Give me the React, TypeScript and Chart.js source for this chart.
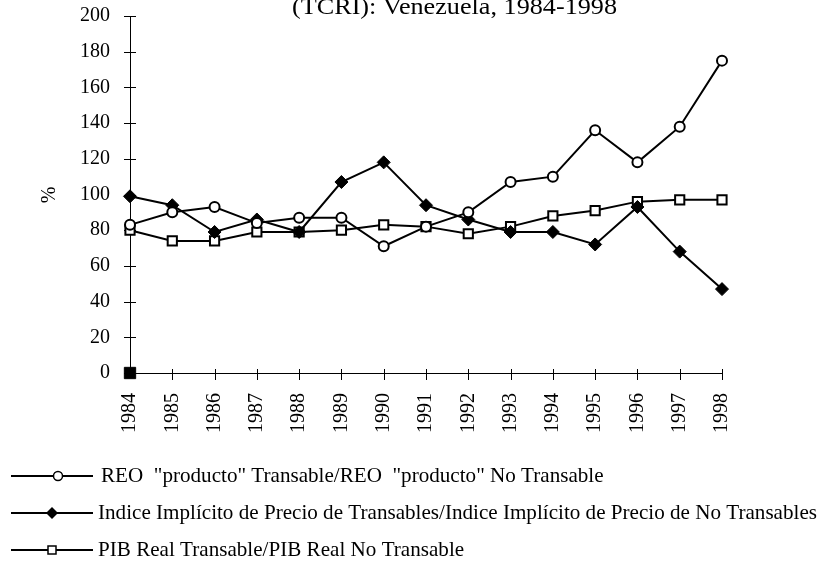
import { useEffect, useRef } from "react";
import { Chart, registerables } from "chart.js";

Chart.register(...registerables);

const years = ["1984", "1985", "1986", "1987", "1988", "1989", "1990", "1991", "1992", "1993", "1994", "1995", "1996", "1997", "1998"];
const reo = [83, 90, 93, 84, 87, 87, 71, 82, 90, 107, 110, 136, 118, 138, 175];
const indice = [99, 94, 79, 86, 79, 107, 118, 94, 86, 79, 79, 72, 93, 68, 47];
const pib = [80, 74, 74, 79, 79, 80, 83, 82, 78, 82, 88, 91, 96, 97, 97];
const strayMark = [0, null, null, null, null, null, null, null, null, null, null, null, null, null, null];

const titleText = "(TCRI): Venezuela, 1984-1998";
const yAxisTitle = "%";
const legendLabels = [
  "REO  \"producto\" Transable/REO  \"producto\" No Transable",
  "Indice Implícito de Precio de Transables/Indice Implícito de Precio de No Transables",
  "PIB Real Transable/PIB Real No Transable",
];
const legendMarkers = ["circle", "diamond", "square"];

const SERIF = "'Liberation Serif', 'DejaVu Serif', serif";

const decorPlugin = {
  id: "decor",
  beforeDatasetsDraw(chart: any) {
    const ctx = chart.ctx;
    const x = chart.scales.x;
    const y = chart.scales.y;
    const area = chart.chartArea;
    ctx.save();
    ctx.strokeStyle = "#000";
    ctx.lineWidth = 1;
    ctx.beginPath();
    ctx.moveTo(area.left + 0.5, area.top);
    ctx.lineTo(area.left + 0.5, area.bottom + 0.5);
    ctx.lineTo(area.right, area.bottom + 0.5);
    ctx.stroke();
    y.ticks.forEach((_t: any, i: number) => {
      const py = Math.round(y.getPixelForTick(i)) + 0.5;
      ctx.beginPath();
      ctx.moveTo(area.left - 6, py);
      ctx.lineTo(area.left + 6, py);
      ctx.stroke();
    });
    x.ticks.forEach((_t: any, i: number) => {
      if (i === 0) return;
      const px = Math.round(x.getPixelForTick(i)) + 0.5;
      ctx.beginPath();
      ctx.moveTo(px, area.bottom - 4);
      ctx.lineTo(px, area.bottom + 7);
      ctx.stroke();
    });
    ctx.restore();
  },
  afterDraw(chart: any) {
    const ctx = chart.ctx;
    ctx.save();
    ctx.fillStyle = "#000";
    // title (partially cut at top)
    ctx.font = `24px ${SERIF}`;
    ctx.textBaseline = "alphabetic";
    ctx.textAlign = "left";
    const tw = ctx.measureText(titleText).width;
    ctx.save();
    ctx.translate(292, 14);
    ctx.scale(325 / tw, 1);
    ctx.fillText(titleText, 0, 0);
    ctx.restore();

    // y axis title
    ctx.save();
    ctx.font = `20px ${SERIF}`;
    ctx.translate(50, 195);
    ctx.rotate(-Math.PI / 2);
    ctx.textAlign = "center";
    ctx.textBaseline = "middle";
    ctx.fillText(yAxisTitle, 0, 0);
    ctx.restore();

    // legend
    ctx.font = `21px ${SERIF}`;
    const refW = ctx.measureText(legendLabels[1]).width;
    const sx = 719 / refW;
    const rowsY = [476, 513, 550];
    const markX = [58, 52, 52];
    const textX = [101, 98, 98];
    legendLabels.forEach((label, i) => {
      const ly = rowsY[i];
      ctx.strokeStyle = "#000";
      ctx.lineWidth = 2;
      ctx.beginPath();
      ctx.moveTo(11, ly);
      ctx.lineTo(93, ly);
      ctx.stroke();
      const m = legendMarkers[i];
      const mx = markX[i];
      ctx.lineWidth = 1.5;
      if (m === "circle") {
        ctx.fillStyle = "#fff";
        ctx.beginPath();
        ctx.arc(mx, ly, 4.5, 0, Math.PI * 2);
        ctx.fill();
        ctx.stroke();
      } else if (m === "diamond") {
        ctx.fillStyle = "#000";
        ctx.beginPath();
        ctx.moveTo(mx, ly - 6);
        ctx.lineTo(mx + 6, ly);
        ctx.lineTo(mx, ly + 6);
        ctx.lineTo(mx - 6, ly);
        ctx.closePath();
        ctx.fill();
      } else {
        ctx.fillStyle = "#fff";
        ctx.fillRect(mx - 4, ly - 4, 8, 8);
        ctx.strokeRect(mx - 4, ly - 4, 8, 8);
      }
      ctx.fillStyle = "#000";
      ctx.textBaseline = "middle";
      ctx.save();
      ctx.translate(textX[i], ly);
      ctx.scale(sx, 1);
      ctx.fillText(label, 0, 0);
      ctx.restore();
    });
    ctx.restore();
  },
};

export default function App() {
  const ref = useRef<HTMLCanvasElement | null>(null);
  useEffect(() => {
    document.body.style.margin = "0";
    const canvas = ref.current!;
    const chart = new Chart(canvas, {
      type: "line",
      data: {
        labels: years,
        datasets: [
          {
            label: legendLabels[0],
            data: reo,
            borderColor: "#000",
            borderWidth: 2,
            pointStyle: "circle",
            pointRadius: 5,
            pointBorderWidth: 2,
            pointBackgroundColor: "#fff",
            pointBorderColor: "#000",
            tension: 0,
            clip: false,
          },
          {
            label: legendLabels[1],
            data: indice,
            borderColor: "#000",
            borderWidth: 2,
            pointStyle: "rectRot",
            pointRadius: 6.5,
            pointBorderWidth: 1,
            pointBackgroundColor: "#000",
            pointBorderColor: "#000",
            tension: 0,
            clip: false,
          },
          {
            label: legendLabels[2],
            data: pib,
            borderColor: "#000",
            borderWidth: 2,
            pointStyle: "rect",
            pointRadius: 6.5,
            pointBorderWidth: 2,
            pointBackgroundColor: "#fff",
            pointBorderColor: "#000",
            tension: 0,
            clip: false,
          },
          {
            label: "",
            data: strayMark,
            showLine: false,
            pointStyle: "rect",
            pointRadius: 8,
            pointBorderWidth: 1,
            pointBackgroundColor: "#000",
            pointBorderColor: "#000",
            clip: false,
          },
        ],
      },
      options: {
        responsive: false,
        animation: false,
        devicePixelRatio: 1,
        layout: { padding: { left: 0, right: 105, top: 16, bottom: 0 } },
        plugins: {
          legend: { display: false },
          title: { display: false },
          tooltip: { enabled: false },
        },
        scales: {
          x: {
            type: "category",
            offset: false,
            grid: { display: false, drawTicks: false },
            border: { display: false },
            ticks: {
              autoSkip: false,
              minRotation: 90,
              maxRotation: 90,
              padding: 20,
              color: "#000",
              font: { family: SERIF, size: 20 },
            },
            afterFit(scale: any) {
              scale.height = 193;
              scale.paddingLeft = 0;
              scale.paddingRight = 0;
            },
          },
          y: {
            min: 0,
            max: 200,
            grid: { display: false, drawTicks: false },
            border: { display: false },
            ticks: {
              stepSize: 20,
              padding: 20,
              color: "#000",
              font: { family: SERIF, size: 20 },
            },
            afterFit(scale: any) {
              scale.width = 130;
              scale.paddingTop = 0;
              scale.paddingBottom = 0;
            },
          },
        },
      },
      plugins: [decorPlugin],
    });
    return () => chart.destroy();
  }, []);
  return (
    <div style={{ width: 827, height: 566, background: "#fff" }}>
      <canvas ref={ref} width={827} height={566} style={{ display: "block" }} />
    </div>
  );
}
